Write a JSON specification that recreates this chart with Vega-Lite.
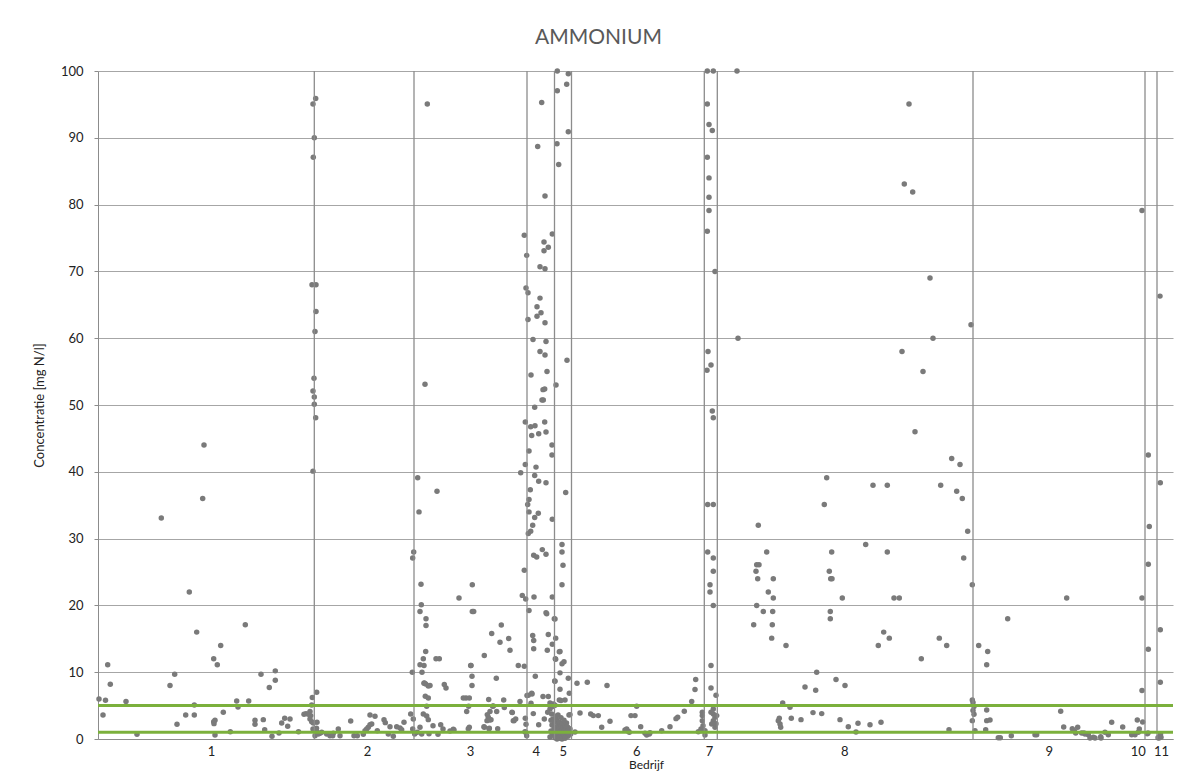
{
  "$schema": "https://vega.github.io/schema/vega-lite/v6.json",
  "width": 1075,
  "height": 668,
  "autosize": "none",
  "padding": {"left": 98, "top": 71, "right": 8, "bottom": 37},
  "background": "white",
  "config": {"view": {"stroke": null}, "font": "Lato", "axisY": {"grid": true, "gridColor": "#a6a6a6", "gridWidth": 1}},
  "title": {"text": "AMMONIUM", "fontSize": 21, "fontWeight": "normal", "font": "Lato", "color": "#595959", "anchor": "middle", "dx": -37, "offset": 0, "baseline": "alphabetic"},
  "datasets": {
    "pts": [
      {"x":1,"y":6.0},{"x":5,"y":3.6},{"x":7.5,"y":5.8},{"x":9.7,"y":11.1},{"x":12.3,"y":8.2},{"x":28,"y":5.6},{"x":39,"y":0.7},{"x":63.3,"y":33.1},{"x":72,"y":8.0},{"x":76.7,"y":9.7},{"x":79,"y":2.2},{"x":87.7,"y":3.6},{"x":91.3,"y":22},{"x":96.3,"y":5.1},{"x":96.3,"y":3.6},{"x":98.7,"y":16},{"x":104.7,"y":36},{"x":106,"y":44},{"x":115.7,"y":12},{"x":119.3,"y":11.1},{"x":122.7,"y":14},{"x":115.7,"y":2.6},{"x":116,"y":2.3},{"x":117,"y":2.8},{"x":117,"y":0.6},{"x":125.3,"y":4.0},{"x":132.3,"y":1.1},{"x":138.7,"y":5.7},{"x":140,"y":4.8},{"x":147.3,"y":17.1},{"x":150.7,"y":5.7},{"x":157,"y":2.8},{"x":157,"y":2.2},{"x":163,"y":9.7},{"x":165.3,"y":2.9},{"x":166.7,"y":1.4},{"x":171.3,"y":7.7},{"x":174,"y":0.4},{"x":177.3,"y":10.2},{"x":177.3,"y":8.8},{"x":181,"y":0.9},{"x":183.7,"y":2.4},{"x":186.7,"y":3.1},{"x":189.7,"y":1.9},{"x":192,"y":3.0},{"x":200.5,"y":1.1},{"x":206,"y":3.7},{"x":208,"y":3.8},{"x":212,"y":4.1},{"x":212.7,"y":3.5},{"x":212,"y":3.0},{"x":213.7,"y":5.1},{"x":214.3,"y":6.2},{"x":218.7,"y":7.0},{"x":213.7,"y":2.6},{"x":215.3,"y":2.4},{"x":219,"y":2.5},{"x":215,"y":1.5},{"x":217,"y":1.4},{"x":218.5,"y":1.6},
      {"x":215,"y":95.05},{"x":217.7,"y":95.9},{"x":216.3,"y":90},{"x":215.3,"y":87.1},{"x":214,"y":68},{"x":218,"y":68},{"x":218,"y":64},{"x":217,"y":61},{"x":216,"y":54},{"x":215,"y":52.1},{"x":216.3,"y":51.2},{"x":216.3,"y":50.1},{"x":217.7,"y":48.1},{"x":215,"y":40.1},
      {"x":220.3,"y":0.75},{"x":222,"y":0.85},{"x":217,"y":0.5},{"x":218.7,"y":1.1},{"x":216.7,"y":1.35},{"x":210.3,"y":3.7},{"x":223.7,"y":1.0},{"x":228.7,"y":0.75},{"x":232,"y":0.5},{"x":235.3,"y":0.85},{"x":234.7,"y":0.5},{"x":240.3,"y":1.5},{"x":242,"y":0.5},{"x":252.7,"y":2.7},{"x":256,"y":0.5},{"x":259.3,"y":0.5},{"x":265.3,"y":0.7},{"x":267,"y":1.25},{"x":268.7,"y":1.5},{"x":270.3,"y":1.75},{"x":272,"y":2.15},{"x":273.7,"y":2.25},{"x":272,"y":3.6},{"x":277,"y":3.4},{"x":279.3,"y":1.25},{"x":286,"y":2.9},{"x":287.3,"y":2.45},{"x":290.3,"y":0.75},{"x":292,"y":1.85},{"x":295.3,"y":0.4},{"x":298.7,"y":1.85},{"x":302,"y":1.65},{"x":303.7,"y":1.4},{"x":306,"y":2.5},{"x":312.7,"y":3.75},{"x":315.3,"y":3.0},{"x":314.7,"y":1.5},{"x":316.7,"y":0.75},{"x":314.3,"y":10.0},{"x":315.7,"y":28},{"x":314.7,"y":27.1},
      {"x":319.3,"y":1.0},{"x":322,"y":1.75},{"x":325.3,"y":3.75},{"x":328.7,"y":3.45},{"x":330.3,"y":2.9},{"x":328.7,"y":4.9},{"x":327.3,"y":6.4},{"x":331,"y":0.8},{"x":323.7,"y":0.75},{"x":330.3,"y":7.95},{"x":327.7,"y":8.25},{"x":326,"y":8.35},{"x":324,"y":10},{"x":326,"y":11},{"x":325.3,"y":12},{"x":327.7,"y":13.1},{"x":338,"y":12},{"x":341.3,"y":12},{"x":322,"y":11.1},{"x":328,"y":17},{"x":328,"y":18},{"x":322,"y":19.1},{"x":323.3,"y":20.1},{"x":323,"y":23.15},{"x":361,"y":21.1},{"x":346.3,"y":8.15},{"x":348,"y":7.65},{"x":342.7,"y":2.15},{"x":355.3,"y":1.45},{"x":368,"y":6.15},{"x":371.3,"y":6.15},{"x":368.7,"y":4.1},{"x":370.7,"y":4.9},{"x":371.3,"y":1.75},{"x":327,"y":53.1},{"x":319.7,"y":39.1},{"x":321,"y":34},{"x":339,"y":37.1},{"x":329.3,"y":95.06},{"x":326.3,"y":8.4},{"x":332,"y":8},{"x":330.3,"y":6.15},
      {"x":374.3,"y":23.1},{"x":374.3,"y":19.1},{"x":375.7,"y":19.1},{"x":372.7,"y":11},{"x":374,"y":9.4},{"x":374,"y":8},{"x":386.3,"y":12.5},{"x":393.7,"y":15.8},{"x":403.3,"y":17.05},{"x":402,"y":14.5},{"x":410.7,"y":15.05},{"x":412,"y":13.3},{"x":398.3,"y":9.1},{"x":420.3,"y":11},{"x":426.3,"y":10.9},{"x":422.7,"y":39.85},{"x":426.3,"y":25.25},{"x":424.3,"y":21.5},{"x":427.7,"y":20.95},{"x":365.3,"y":6.15},{"x":356,"y":1.35},{"x":370.3,"y":1.55},{"x":386.3,"y":1.75},{"x":391,"y":1.55},{"x":390.7,"y":5.9},{"x":395.3,"y":4.95},{"x":398.7,"y":4.1},{"x":392,"y":4.1},{"x":393,"y":2.9},{"x":389.3,"y":3.65},{"x":390.3,"y":3.25},{"x":399.7,"y":1.55},{"x":405.7,"y":5.85},{"x":406.3,"y":4.7},{"x":414.3,"y":3.95},{"x":416,"y":2.75},{"x":417.7,"y":3.0},{"x":422,"y":5.6},{"x":427.3,"y":3.1},{"x":428,"y":2.2},{"x":427,"y":1.1},{"x":373,"y":11},{"x":394.7,"y":4.9},{"x":414,"y":4.0},{"x":389,"y":2.75},{"x":392,"y":2.85},{"x":415.3,"y":2.75},{"x":386,"y":1.85},{"x":391.3,"y":1.6},{"x":427.7,"y":1.0},{"x":428.7,"y":0.5},{"x":335,"y":2.0},{"x":345,"y":1.5},{"x":352,"y":1.2},{"x":340,"y":0.7},
      {"x":443.7,"y":95.3},{"x":439.7,"y":88.7},{"x":447,"y":81.3},{"x":426.3,"y":75.4},{"x":428.7,"y":72.4},{"x":446,"y":74.4},{"x":446,"y":73.1},{"x":450.3,"y":73.6},{"x":454.3,"y":75.6},{"x":428,"y":67.5},{"x":430,"y":66.8},{"x":430,"y":62.8},{"x":435,"y":59.8},{"x":442,"y":66},{"x":439,"y":64.7},{"x":439,"y":63.3},{"x":443,"y":63.8},{"x":447,"y":62.3},{"x":442,"y":58},{"x":447,"y":57.5},{"x":449,"y":55},{"x":448,"y":59.5},{"x":442,"y":70.7},{"x":447,"y":70.4},{"x":433,"y":54.5},{"x":445,"y":52.3},{"x":446.7,"y":52.4},{"x":444,"y":50.75},{"x":445.3,"y":50.75},{"x":436.7,"y":49.65},{"x":427.3,"y":47.45},{"x":432.7,"y":46.75},{"x":437,"y":46.9},{"x":433.7,"y":45.45},{"x":440.7,"y":45.7},{"x":446.7,"y":47.45},{"x":448,"y":45.95},{"x":454,"y":44},{"x":454,"y":42.5},{"x":431,"y":43.1},{"x":427.3,"y":41.1},{"x":438,"y":40.7},{"x":436.7,"y":39.45},{"x":440.7,"y":38.6},{"x":448,"y":38.35},{"x":432.3,"y":37.3},{"x":431,"y":35.85},{"x":429.7,"y":35.1},{"x":431,"y":34},{"x":440.3,"y":33.8},{"x":436.7,"y":33.15},{"x":434.7,"y":32},{"x":432.7,"y":31.1},{"x":430.3,"y":30.75},{"x":454.3,"y":32.9},{"x":444.3,"y":28.35},{"x":448,"y":27.65},{"x":435.7,"y":27.5},{"x":438.7,"y":27.25},{"x":436,"y":21.25},{"x":454.3,"y":21.25},{"x":431,"y":19.25},{"x":448,"y":18.9},{"x":448.7,"y":18.75},{"x":456.3,"y":18},{"x":434.7,"y":15.5},{"x":435.7,"y":14.75},{"x":435.7,"y":13.5},{"x":450.3,"y":15.65},{"x":449.3,"y":13.3},{"x":454.3,"y":14.2},{"x":457.7,"y":15.1},{"x":457.3,"y":12},{"x":456.7,"y":8.7},{"x":437.3,"y":9.4},{"x":429,"y":6.5},{"x":434,"y":6.75},{"x":433,"y":5.35},{"x":445,"y":6.35},{"x":450.3,"y":6.35},{"x":455.3,"y":5.25},{"x":452,"y":4.5},{"x":453.7,"y":3.75},{"x":449.7,"y":4.0},{"x":440.7,"y":2.15},{"x":446.3,"y":3.0},{"x":452,"y":5.4},{"x":454,"y":5.15},{"x":457,"y":5.05},{"x":454.7,"y":4.85},{"x":430.3,"y":6.55},{"x":433.7,"y":6.85},{"x":435.3,"y":3.8},{"x":457,"y":8.65},{"x":457,"y":17.95},{"x":457.7,"y":11.95},
      {"x":459.3,"y":100},{"x":470.3,"y":99.6},{"x":468.7,"y":98},{"x":459.3,"y":97.05},{"x":470.3,"y":90.9},{"x":459,"y":89.1},{"x":460.7,"y":86},{"x":458,"y":53},{"x":469,"y":56.7},{"x":467.7,"y":36.9},{"x":464,"y":29.1},{"x":464,"y":28},{"x":465,"y":26},{"x":464,"y":23.1},{"x":462,"y":13.1},{"x":464,"y":11.25},{"x":466,"y":11.55},{"x":462,"y":9.9},{"x":470.3,"y":9.1},{"x":462,"y":7.45},{"x":471.3,"y":6.85},{"x":467,"y":5.85},{"x":461.3,"y":13.05},{"x":461.3,"y":5.85},{"x":463,"y":5.75},{"x":472,"y":3.65},{"x":477,"y":1.05},{"x":472,"y":1.5},{"x":472.7,"y":0.75},{"x":471,"y":3.6},{"x":471,"y":1.55},
      {"x":452,"y":0.3},{"x":453,"y":1.2},{"x":454,"y":2.1},{"x":455,"y":0.6},{"x":456,"y":1.5},{"x":456.5,"y":2.6},{"x":457,"y":0.2},{"x":457.5,"y":1.0},{"x":458,"y":1.8},{"x":458.5,"y":2.9},{"x":459,"y":0.4},{"x":459.5,"y":1.3},{"x":460,"y":2.2},{"x":460.5,"y":0.8},{"x":461,"y":1.6},{"x":461.5,"y":2.5},{"x":462,"y":0.1},{"x":462.5,"y":1.1},{"x":463,"y":1.9},{"x":463.5,"y":0.5},{"x":464,"y":1.4},{"x":464.5,"y":2.3},{"x":465,"y":0.9},{"x":465.5,"y":1.7},{"x":466,"y":0.3},{"x":466.5,"y":1.2},{"x":467,"y":2.0},{"x":467.5,"y":0.6},{"x":468,"y":1.5},{"x":468.5,"y":2.4},{"x":469,"y":0.9},{"x":469.5,"y":1.8},{"x":470,"y":0.4},{"x":470.5,"y":1.2},{"x":458,"y":3.4},{"x":460,"y":3.6},{"x":463,"y":3.2},{"x":466,"y":2.8},{"x":455,"y":3.0},{"x":459,"y":0.0},{"x":461,"y":0.2},{"x":464,"y":0.0},{"x":467,"y":0.1},{"x":453,"y":2.8},{"x":454,"y":0.9},
      {"x":479,"y":8.35},{"x":489.3,"y":8.5},{"x":509,"y":8.0},{"x":482,"y":3.9},{"x":492.7,"y":3.75},{"x":495.3,"y":3.5},{"x":500.3,"y":3.5},{"x":503.7,"y":1.75},{"x":512,"y":2.65},{"x":527,"y":1.35},{"x":530.3,"y":1.15},{"x":533,"y":3.5},{"x":537,"y":3.5},{"x":538.7,"y":4.9},{"x":542.7,"y":1.85},{"x":547,"y":0.85},{"x":551.3,"y":0.75},{"x":548.7,"y":0.6},{"x":563.7,"y":1.25},{"x":572,"y":1.85},{"x":578,"y":3.05},{"x":579.7,"y":3.25},{"x":586.3,"y":4.15},{"x":593.7,"y":5.6},{"x":597,"y":7.4},{"x":597.7,"y":8.9},{"x":600.3,"y":1.1},{"x":603,"y":1.5},{"x":607,"y":0.6},{"x":528.7,"y":1.5},{"x":531.3,"y":1.0},{"x":552,"y":0.95},
      {"x":609.3,"y":100},{"x":615.3,"y":100},{"x":609.3,"y":95.06},{"x":611,"y":92},{"x":614.3,"y":91.1},{"x":609.3,"y":87.1},{"x":611,"y":84},{"x":611,"y":81.1},{"x":611,"y":79.1},{"x":609.3,"y":76},{"x":617,"y":70},{"x":610,"y":58},{"x":613,"y":56},{"x":609,"y":55.2},{"x":614.3,"y":49.1},{"x":615.3,"y":48.1},{"x":609.7,"y":35.1},{"x":615.3,"y":35.1},{"x":609.7,"y":28},{"x":615.3,"y":27.1},{"x":615.3,"y":25.1},{"x":612,"y":23.1},{"x":612,"y":22},{"x":615.3,"y":20},{"x":613,"y":11},{"x":613,"y":7.65},{"x":618,"y":6.55},{"x":604.3,"y":4},{"x":604.3,"y":3.5},{"x":604.3,"y":2.75},{"x":605,"y":2},{"x":604,"y":1.25},{"x":607,"y":1.25},{"x":615.3,"y":4.5},{"x":615.3,"y":3.75},{"x":617,"y":3.25},{"x":615.3,"y":2.75},{"x":613.7,"y":2.25},{"x":617,"y":1.75},{"x":618.7,"y":3.5},{"x":613,"y":4.0},{"x":618,"y":2.3},
      {"x":639,"y":100},{"x":640,"y":60},{"x":660.3,"y":32},{"x":668.7,"y":28},{"x":658.7,"y":26.1},{"x":661,"y":26.1},{"x":658,"y":25.1},{"x":659.7,"y":24},{"x":675.3,"y":24},{"x":670.3,"y":22},{"x":675.3,"y":21.1},{"x":658.7,"y":20},{"x":665.3,"y":19.1},{"x":674.7,"y":19.1},{"x":655.7,"y":17.1},{"x":674.3,"y":17.1},{"x":673.7,"y":15.1},{"x":688,"y":14},{"x":684.7,"y":5.4},{"x":692,"y":4.75},{"x":680.3,"y":2.75},{"x":682,"y":2.25},{"x":682.7,"y":1.75},{"x":681.3,"y":3.1},{"x":693.3,"y":3.1},{"x":703,"y":2.9},{"x":715,"y":3.95},{"x":723.7,"y":3.8},{"x":707,"y":7.8},{"x":717.7,"y":7.3},{"x":718.7,"y":10},{"x":738,"y":8.9},{"x":747,"y":8},{"x":731.3,"y":25.1},{"x":732.7,"y":24},{"x":734,"y":24},{"x":744.3,"y":21.1},{"x":732.3,"y":19.1},{"x":732.3,"y":18},{"x":726.3,"y":35.1},{"x":728.7,"y":39.1},{"x":733.7,"y":28},{"x":767.7,"y":29.1},{"x":775,"y":38},{"x":789.3,"y":38},{"x":789.3,"y":28},{"x":796,"y":21.1},{"x":801.3,"y":21.1},{"x":785.7,"y":16},{"x":791.3,"y":15.1},{"x":780.3,"y":14},{"x":742,"y":2.9},{"x":750.3,"y":1.85},{"x":760,"y":2.35},{"x":758,"y":1.05},{"x":772,"y":2.15},{"x":783,"y":2.5},{"x":811,"y":95.06},{"x":806.3,"y":83.1},{"x":814.7,"y":81.9},{"x":832,"y":69},{"x":835,"y":60},{"x":804,"y":58},{"x":825,"y":55},{"x":817,"y":46},{"x":823.3,"y":12},{"x":841.3,"y":15.1},{"x":848.7,"y":14},{"x":842.7,"y":38},{"x":853.7,"y":42},{"x":862,"y":41.1},{"x":858.7,"y":37.1},{"x":864.3,"y":36},{"x":869.7,"y":31.1},{"x":865.7,"y":27.1},{"x":874.3,"y":23.1},{"x":873,"y":62},{"x":851,"y":1.4},
      {"x":874.3,"y":5.85},{"x":875,"y":5.45},{"x":876,"y":4.85},{"x":875,"y":4.25},{"x":876,"y":3.7},{"x":874.3,"y":2.75},{"x":877,"y":1.25},
      {"x":880.7,"y":14},{"x":889.7,"y":13.1},{"x":888.7,"y":11.1},{"x":909.7,"y":18},{"x":888.7,"y":4.35},{"x":888.7,"y":2.75},{"x":892,"y":2.85},{"x":887.7,"y":1.4},{"x":900.3,"y":0.2},{"x":902.3,"y":0.2},{"x":913.3,"y":0.5},{"x":937,"y":0.65},{"x":938.7,"y":0.65},{"x":962.7,"y":4.15},{"x":965.7,"y":1.8},{"x":968.7,"y":21.1},{"x":974.3,"y":1.55},{"x":977.7,"y":0.9},{"x":979.7,"y":1.75},{"x":976.3,"y":1.25},{"x":983.7,"y":0.9},{"x":986,"y":0.9},{"x":990.3,"y":0.65},{"x":992,"y":0.15},{"x":997,"y":0.15},{"x":1003,"y":0.15},{"x":1007,"y":1.0},{"x":1010.3,"y":0.65},{"x":1013.7,"y":2.5},{"x":1024.7,"y":1.8},{"x":1035.3,"y":0.8},{"x":1040.3,"y":1.0},{"x":1041.3,"y":1.5},{"x":1039.3,"y":2.85},{"x":1044.7,"y":2.55},{"x":1049.3,"y":0.8},{"x":1044,"y":79.1},{"x":1044,"y":21.1},{"x":1044,"y":7.25},{"x":995.3,"y":0.25},{"x":1002.7,"y":0.35},{"x":1033.7,"y":0.65},{"x":1037,"y":0.65},{"x":987,"y":0.75},
      {"x":1050.3,"y":42.5},{"x":1050.3,"y":26.15},{"x":1051.3,"y":31.8},{"x":1050.3,"y":13.45},{"x":1062.3,"y":38.35},{"x":1062.3,"y":16.35},{"x":1062.3,"y":8.5},{"x":1062,"y":66.3},{"x":1061,"y":0.15},{"x":1062,"y":0.5},{"x":1063,"y":0.25},{"x":1062.5,"y":0.75},{"x":1060,"y":0.2},{"x":1050,"y":0.9}
    ],
    "seps": [{"x":216.3},{"x":316},{"x":429},{"x":456.5},{"x":473.5},{"x":606.3},{"x":619.3},{"x":875},{"x":1047},{"x":1059}],
    "lims": [{"y":1},{"y":5}]
  },
  "layer": [
    {
      "data": {"name": "pts"},
      "mark": {"type": "circle", "color": "#7a7a7a", "opacity": 1, "size": 30},
      "encoding": {
        "x": {"field": "x", "type": "quantitative", "scale": {"domain": [0, 1075], "nice": false, "zero": false},
          "axis": {"values": [113, 269, 372, 437.7, 464.7, 538.3, 611, 746.3, 950.7, 1039.7, 1063],
            "labelExpr": "['1','2','3','4','5','6','7','8','9','10','11'][indexof([113, 269, 372, 437.7, 464.7, 538.3, 611, 746.3, 950.7, 1039.7, 1063], datum.value)]",
            "title": "Bedrijf", "titleX": 548, "ticks": false, "grid": false, "domainColor": "#8c8c8c", "labelFontSize": 13, "labelColor": "#222", "labelPadding": 6, "titleFontSize": 12, "titleFontWeight": "normal", "titleColor": "#222", "titlePadding": 1, "labelFlush": false, "labelOverlap": false}},
        "y": {"field": "y", "type": "quantitative", "scale": {"domain": [0, 100], "nice": false},
          "axis": {"values": [0,10,20,30,40,50,60,70,80,90,100], "grid": true, "title": "Concentratie [mg N/l]", "gridColor": "#a6a6a6", "domainColor": "#8c8c8c", "tickColor": "#8c8c8c", "tickSize": 4, "labelPadding": 11, "labelFontSize": 13, "labelColor": "#222", "titleFontSize": 13, "titleFontWeight": "normal", "titleColor": "#222", "titlePadding": 14}}
      }
    },
    {
      "data": {"name": "seps"},
      "mark": {"type": "rule", "color": "#8c8c8c", "strokeWidth": 1.3},
      "encoding": {
        "x": {"field": "x", "type": "quantitative"},
        "y": {"datum": 0, "type": "quantitative"},
        "y2": {"datum": 100}
      }
    },
    {
      "data": {"name": "lims"},
      "mark": {"type": "rule", "color": "#7bb03c", "strokeWidth": 3},
      "encoding": {"y": {"field": "y", "type": "quantitative"}}
    }
  ]
}
